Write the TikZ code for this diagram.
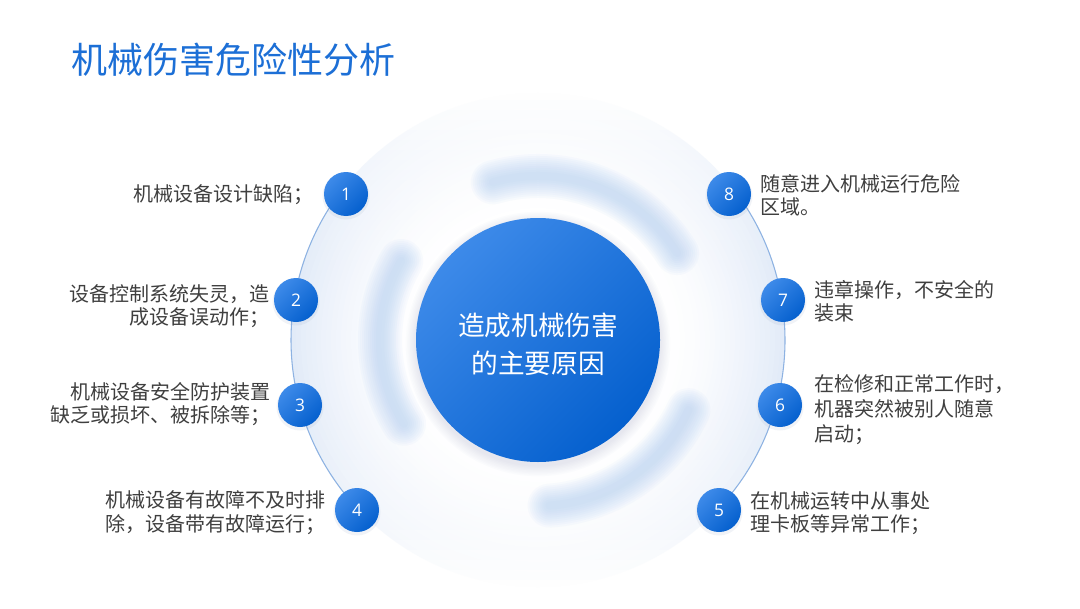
\documentclass[tikz,border=0pt]{standalone}
\usepackage{fontspec}
\setmainfont{Noto Sans CJK SC}
\newfontfamily\numfont{Open Sans}
\definecolor{titleblue}{HTML}{1C6FD6}
\definecolor{txtgray}{HTML}{3F3F3F}
\definecolor{discblue}{HTML}{E2EBF8}
\definecolor{edgeblue}{HTML}{8DB2E2}
\definecolor{arcblue}{HTML}{A8C8F2}
\definecolor{ballhi}{HTML}{3D8AE9}
\definecolor{balllo}{HTML}{0560CE}
\definecolor{shadowc}{HTML}{7D93B5}
\tikzset{
  ball/.style={circle, inner sep=0pt, minimum size=33pt, top color=ballhi, bottom color=balllo, shading angle=45, text=white, font=\numfont\fontsize{13}{13}\selectfont},
  lbl/.style={inner sep=0pt, text=txtgray, font=\fontsize{15}{17.5}\selectfont},
  edgeline/.style={draw=edgeblue, line width=0.8pt},
}
\newcommand{\softarc}[3]{%
  \foreach \w in {44,40,36,32,28,24,20,16,12,8}{%
    \draw[shift={(538,268)}, arcblue, line width=\w*0.75pt, opacity=0.065, line cap=round] (#1:#3) arc[start angle=#1, end angle=#2, radius=#3];}}
\begin{document}
\begin{tikzpicture}[x=0.75pt,y=0.75pt]
\useasboundingbox (0,0) rectangle (1080,608);
\fill[white] (0,0) rectangle (1080,608);
% background disc: concentric rings, white centre to pale blue rim
\foreach \k in {0,...,24}{
  \pgfmathsetmacro\rr{247-5*\k}
  \pgfmathsetmacro\pp{100*((\rr-125)/122)^1.6}
  \fill[discblue!\pp!white] (538,268) circle (\rr);
}
% fade disc towards top and bottom
\begin{scope}
  \clip (538,268) circle (248);
  \foreach \k in {0,...,18}{
    \pgfmathsetmacro\op{((\k+0.5)/19)^1.1}
    \fill[white, opacity=\op] (280,{268+60+10*\k}) rectangle (800,{268+70+10*\k});
    \fill[white, opacity=\op] (280,{268-60-10*\k}) rectangle (800,{268-70-10*\k});
  }
\end{scope}
% soft blurred arcs
\softarc{150}{212}{158}
\softarc{106}{32}{164}
\softarc{-25}{-86}{166}
% edge lines
\draw[edgeline, shift={(538,268)}] (141:247) arc[start angle=141, end angle=225, radius=247];
\draw[edgeline, shift={(538,268)}] (-44:247) arc[start angle=-44, end angle=42, radius=247];
% halo and shadow of the central circle
\foreach \i in {1,...,8}{\fill[white, opacity=0.12] (538,268) circle ({122+2.5*\i});}
\foreach \i in {1,...,8}{\fill[shadowc, opacity=0.025] (538,264) circle ({121+1.4*\i});}
% central circle
\node[circle, inner sep=0pt, minimum size=183pt, top color=ballhi, bottom color=balllo, shading angle=45] (core) at (538,268) {};
\node[text=white, align=center, font=\fontsize{20}{28.5}\selectfont] (ct) at (538,264) {造成机械伤害\\的主要原因};
% number balls
\foreach \p/\n in {{(346,414)}/1,{(296,308)}/2,{(300,203)}/3,{(357,98)}/4,{(729,414)}/8,{(783,308)}/7,{(780,203)}/6,{(719,98)}/5}{
  \fill[shadowc, opacity=0.10] \p ++(0,-2) circle (23.5);
  \node[ball] (n\n) at \p {\n};
}
% labels
\node[lbl, anchor=east] (l1) at (314,413) {机械设备设计缺陷；};
\node[lbl, anchor=east, align=right] (l2) at (270,302) {设备控制系统失灵，造\\成设备误动作；};
\node[lbl, anchor=east, align=right] (l3) at (271,204) {机械设备安全防护装置\\缺乏或损坏、被拆除等；};
\node[lbl, anchor=west, align=left] (l4) at (105,95.5) {机械设备有故障不及时排\\除，设备带有故障运行；};
\node[lbl, anchor=west, align=left] (l8) at (760,413) {随意进入机械运行危险\\区域。};
\node[lbl, anchor=west, align=left] (l7) at (814,306.5) {违章操作，不安全的\\装束};
\node[lbl, anchor=west, align=left, font=\fontsize{15}{18.8}\selectfont] (l6) at (814,198) {在检修和正常工作时，\\机器突然被别人随意\\启动；};
\node[lbl, anchor=west, align=left] (l5) at (750,94.5) {在机械运转中从事处\\理卡板等异常工作；};
% title
\node[anchor=west, inner sep=0pt, text=titleblue, font=\fontsize{27}{30}\selectfont] (title) at (71,548) {机械伤害危险性分析};
\end{tikzpicture}
\end{document}
